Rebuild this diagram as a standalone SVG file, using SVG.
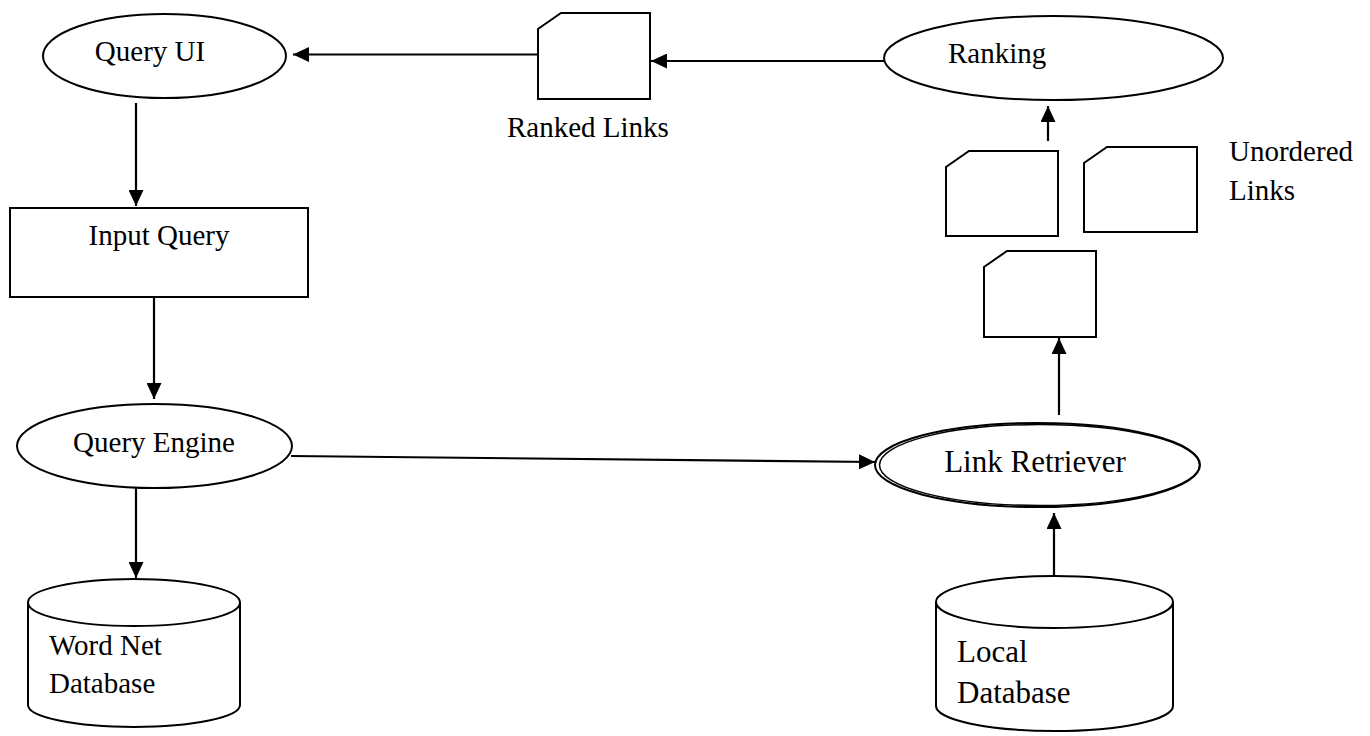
<svg xmlns="http://www.w3.org/2000/svg" width="1370" height="736" viewBox="0 0 1370 736">
<style>
  .s{fill:#fff;stroke:#000;stroke-width:2}
  .t{font-family:"Liberation Serif","Times New Roman",serif;font-size:29px;fill:#000}
  .tl{font-family:"Liberation Serif","Times New Roman",serif;font-size:31px;fill:#000}
  .c{fill:none;stroke:#000;stroke-width:2.2}
</style>
<defs>
  <marker id="ah" markerUnits="userSpaceOnUse" markerWidth="16" markerHeight="15" refX="16" refY="7.5" orient="auto">
    <path d="M0,0 L16,7.5 L0,15 Z" fill="#000"/>
  </marker>
</defs>
<rect width="1370" height="736" fill="#fff"/>
<g id="connectors">
  <path class="c" d="M538,54.5 L293,54.5" marker-end="url(#ah)"/>
  <path class="c" d="M884,61 L651,61" marker-end="url(#ah)"/>
  <path class="c" d="M1048,141 L1048,106" marker-end="url(#ah)"/>
  <path class="c" d="M1059,415 L1059,338" marker-end="url(#ah)"/>
  <path class="c" d="M1054,576 L1054,513" marker-end="url(#ah)"/>
  <path class="c" d="M136,103 L136,206" marker-end="url(#ah)"/>
  <path class="c" d="M154,297 L154,399" marker-end="url(#ah)"/>
  <path class="c" d="M291,456 L875,462" marker-end="url(#ah)"/>
  <path class="c" d="M136,488 L136,578" marker-end="url(#ah)"/>
</g>
<g id="query-ui">
  <ellipse class="s" cx="164.5" cy="56" rx="121.5" ry="42"/>
  <text class="t" x="150" y="61" text-anchor="middle">Query UI</text>
</g>
<g id="ranked-links">
  <path class="s" d="M538,99 L538,29 L561,13 L650,13 L650,99 Z"/>
  <text class="t" x="507" y="137">Ranked Links</text>
</g>
<g id="ranking">
  <ellipse class="s" cx="1053.5" cy="58" rx="169.5" ry="42"/>
  <text class="t" x="948" y="63">Ranking</text>
</g>
<g id="unordered-links">
  <path class="s" d="M946,236 L946,167 L969,151 L1058,151 L1058,236 Z"/>
  <path class="s" d="M1084,232 L1084,163 L1107,147 L1197,147 L1197,232 Z"/>
  <path class="s" d="M984,337 L984,267 L1007,251 L1096,251 L1096,337 Z"/>
  <text class="t" x="1229" y="161">Unordered</text>
  <text class="t" x="1229" y="200">Links</text>
</g>
<g id="input-query">
  <rect class="s" x="10" y="208" width="298" height="89"/>
  <text class="t" x="159" y="245" text-anchor="middle">Input Query</text>
</g>
<g id="query-engine">
  <ellipse class="s" cx="154.5" cy="446" rx="137.5" ry="42"/>
  <text class="t" x="154" y="452" text-anchor="middle">Query Engine</text>
</g>
<g id="link-retriever">
  <ellipse class="s" cx="1037.5" cy="465" rx="162.5" ry="42"/>
  <ellipse fill="none" stroke="#000" stroke-width="1.5" cx="1039.5" cy="465" rx="160" ry="40.5"/>
  <text class="tl" x="1035" y="472" text-anchor="middle">Link Retriever</text>
</g>
<g id="word-net-database">
  <path class="s" d="M28,602.5 L28,705 A106,22 0 0 0 240,705 L240,602.5"/>
  <ellipse class="s" cx="134" cy="602.5" rx="106" ry="23.5"/>
  <text class="t" x="49" y="655">Word Net</text>
  <text class="t" x="49" y="693">Database</text>
</g>
<g id="local-database">
  <path class="s" d="M936,602 L936,706 A118.5,25 0 0 0 1173,706 L1173,602"/>
  <ellipse class="s" cx="1054.5" cy="602" rx="118.5" ry="26"/>
  <text class="tl" x="957" y="662">Local</text>
  <text class="tl" x="957" y="703">Database</text>
</g>
</svg>
